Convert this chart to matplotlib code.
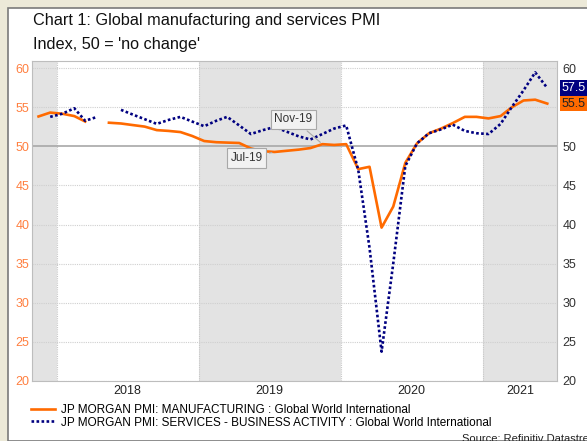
import numpy as np
import pandas as pd
import matplotlib
matplotlib.use("Agg")
import matplotlib.pyplot as plt
from matplotlib.patches import Rectangle

plt.rcParams['font.family'] = ['Liberation Sans', 'DejaVu Sans']

# monthly readings, Nov 2017 .. Jun 2021 (nan = no value shown)
months = pd.date_range("2017-11-01", "2021-06-01", freq="MS") + pd.Timedelta(days=14)

manufacturing = [53.85, 54.35,
                 54.2, 53.9, 53.2, np.nan, 53.05, 52.95, 52.75, 52.55, 52.1, 52.0, 51.85, 51.35,
                 50.7, 50.55, 50.5, 50.45, 49.75, 49.4, 49.3, 49.45, 49.6, 49.8, 50.3, 50.2,
                 50.3, 47.1, 47.4, 39.6, 42.3, 47.9, 50.4, 51.7, 52.3, 53.0, 53.8, 53.8,
                 53.6, 53.9, 55.0, 55.9, 56.0, 55.5]

services = [np.nan, 53.8,
            54.2, 54.9, 53.3, 53.8, np.nan, 54.7, 54.1, 53.5, 52.9, 53.4, 53.8, 53.2,
            52.6, 53.3, 53.8, 52.7, 51.6, 52.1, 52.5, 51.9, 51.3, 50.9, 51.6, 52.3,
            52.7, 47.0, 37.0, 23.7, 35.0, 47.5, 50.4, 51.7, 52.2, 52.8, 52.0, 51.7,
            51.6, 52.9, 55.0, 57.2, 59.5, 57.5]

manu_label = "JP MORGAN PMI: MANUFACTURING : Global World International"
serv_label = "JP MORGAN PMI: SERVICES - BUSINESS ACTIVITY : Global World International"
year_labels = ["2018", "2019", "2020", "2021"]
year_pos = pd.to_datetime(["2018-07-02", "2019-07-02", "2020-07-01", "2021-04-06"])
shaded = [("2017-10-30", "2018-01-01"), ("2019-01-01", "2020-01-01"), ("2021-01-01", "2021-07-10")]
left_ticks = [20, 25, 30, 35, 40, 45, 50, 55, 60]
right_ticks = [20, 25, 30, 35, 40, 45, 50, 60]  # 55 sits under the last-value box

orange = "#FF6A00"
navy = "#000080"

W, H = 587, 441
fig = plt.figure(figsize=(W / 100, H / 100), dpi=100)
fig.patch.set_facecolor("#ECE9D8")
fig.add_artist(Rectangle((8 / W, 0), 1, 1 - 8 / H, transform=fig.transFigure,
                         facecolor="white", edgecolor="#7A7A7A", lw=1.2, zorder=-10))

fig.text(33 / W, 1 - 21 / H, "Chart 1: Global manufacturing and services PMI", fontsize=11.7, va="center", color="#111111")
fig.text(33 / W, 1 - 45 / H, "Index, 50 = 'no change'", fontsize=11.7, va="center", color="#111111")

ax = fig.add_axes([32.3 / W, 1 - 380.5 / H, (557 - 32.3) / W, (380.5 - 60.7) / H])
ax.set_xlim(pd.Timestamp("2017-10-30"), pd.Timestamp("2021-07-10"))
ax.set_ylim(20, 61)
ax.patch.set_alpha(0)

for a, b in shaded:
    ax.axvspan(pd.Timestamp(a), pd.Timestamp(b), color="#E3E3E3", lw=0, zorder=0)
for d in ["2018-01-01", "2019-01-01", "2020-01-01", "2021-01-01"]:
    ax.axvline(pd.Timestamp(d), color="#C8C8C8", lw=0.8, ls=(0, (1, 1)), zorder=1)
for v in left_ticks:
    if v == 50:
        ax.axhline(v, color="#A8A8A8", lw=1.2, zorder=1)
    else:
        ax.axhline(v, color="#CFCFCF", lw=0.8, ls=(0, (1, 1)), zorder=1)
for s in ax.spines.values():
    s.set_color("#BDBDBD")
    s.set_linestyle((0, (1, 1)))
    s.set_linewidth(0.8)

l1, = ax.plot(months, manufacturing, color=orange, lw=1.9, zorder=3, label=manu_label)
l2, = ax.plot(months, services, color=navy, lw=1.9, ls=(0, (1, 0.9)), zorder=4, label=serv_label)

ax.set_xticks(year_pos)
ax.set_xticklabels(year_labels)
ax.set_yticks(left_ticks)
ax.tick_params(axis="x", length=0, pad=3, labelsize=9, labelcolor="#222222")
ax.tick_params(axis="y", length=0, pad=2, labelsize=9, labelcolor="#FF7F3F")

ax2 = ax.twinx()
ax2.set_ylim(ax.get_ylim())
ax2.set_yticks(right_ticks)
ax2.tick_params(axis="y", length=0, pad=4, labelsize=9, labelcolor="#333333")
for s in ax2.spines.values():
    s.set_visible(False)

# last values on the right side
ax2.annotate("57.5", xy=(1.009, services[-1]), xycoords=("axes fraction", "data"), fontsize=9,
             color="white", va="center", ha="left", zorder=6,
             bbox=dict(boxstyle="square,pad=0.15", fc=navy, ec="none"))
ax2.annotate("55.5", xy=(1.009, manufacturing[-1]), xycoords=("axes fraction", "data"), fontsize=9,
             color="#222222", va="center", ha="left", zorder=6,
             bbox=dict(boxstyle="square,pad=0.15", fc=orange, ec="none"))

box = dict(boxstyle="square,pad=0.3", fc="#F2F2F2", ec="#A8A8A8", lw=0.8)
ax.annotate("Jul-19", xy=(months[20], manufacturing[20]), xytext=(-28, -6), textcoords="offset pixels",
            fontsize=8.5, color="#333333", ha="center", va="center", bbox=box,
            arrowprops=dict(arrowstyle="-", color="#A8A8A8", lw=0.8), zorder=5)
ax.annotate("Nov-19", xy=(months[24], manufacturing[24]), xytext=(-29, 25), textcoords="offset pixels",
            fontsize=8.5, color="#333333", ha="center", va="center", bbox=box,
            arrowprops=dict(arrowstyle="-", color="#A8A8A8", lw=0.8), zorder=5)

fig.legend(handles=[l1, l2], loc="upper left", bbox_to_anchor=(31 / W, 1 - 404 / H), frameon=False,
           fontsize=8.5, handlelength=2.0, handletextpad=0.5, labelspacing=0.05, borderpad=0,
           borderaxespad=0)

fig.text(462 / W, 1 - 439 / H, "Source: Refinitiv Datastream", fontsize=8, va="center", color="#222222")

fig.savefig("out.png", dpi=100, facecolor=fig.get_facecolor())
